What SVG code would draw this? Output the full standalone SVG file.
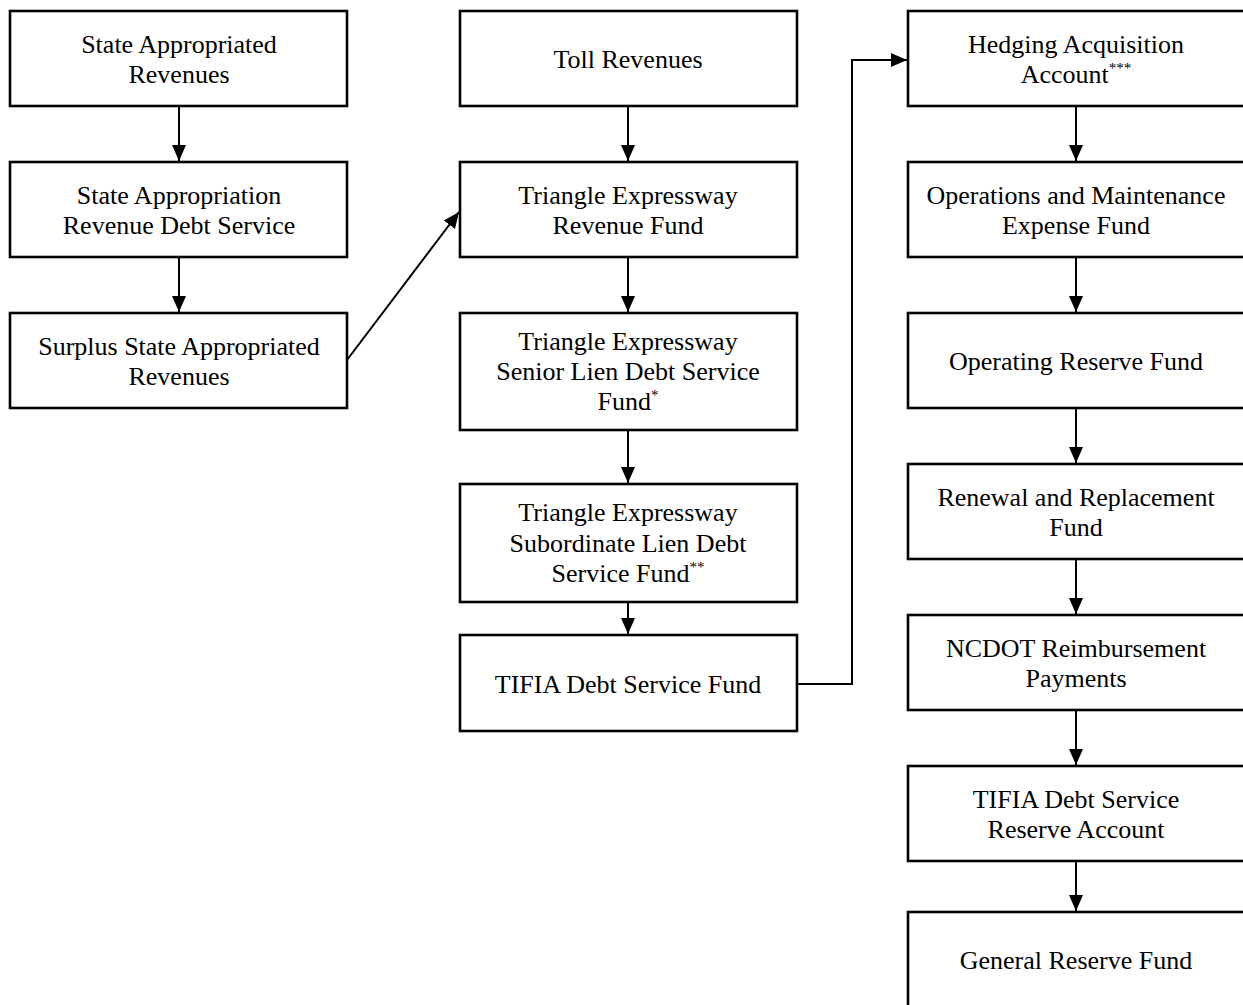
<svg xmlns="http://www.w3.org/2000/svg" width="1243" height="1005" viewBox="0 0 1243 1005">
<style>
.box{fill:#fff;stroke:#000;stroke-width:2.6}
text{font-family:'Liberation Serif','Times New Roman','DejaVu Serif',serif;font-size:26px;fill:#000;text-anchor:middle}
.c{fill:none;stroke:#000;stroke-width:2}
.s{font-size:15px}
</style>
<defs>
<marker id="ah" markerUnits="userSpaceOnUse" markerWidth="16" markerHeight="16" viewBox="0 0 16 16" refX="16" refY="8" orient="auto">
<path d="M0,1 L16,8 L0,15 Z" fill="#000"/>
</marker>
</defs>
<rect width="1243" height="1005" fill="#fff"/>
<g id="connectors">
<line class="c" x1="179" y1="106" x2="179" y2="161" marker-end="url(#ah)"/>
<line class="c" x1="179" y1="257" x2="179" y2="312" marker-end="url(#ah)"/>
<line class="c" x1="347" y1="360" x2="459" y2="212" marker-end="url(#ah)"/>
<line class="c" x1="628" y1="106" x2="628" y2="161" marker-end="url(#ah)"/>
<line class="c" x1="628" y1="257" x2="628" y2="312" marker-end="url(#ah)"/>
<line class="c" x1="628" y1="430" x2="628" y2="483" marker-end="url(#ah)"/>
<line class="c" x1="628" y1="602" x2="628" y2="634" marker-end="url(#ah)"/>
<polyline class="c" points="797,684 852,684 852,60 907,60" marker-end="url(#ah)"/>
<line class="c" x1="1076" y1="106" x2="1076" y2="161" marker-end="url(#ah)"/>
<line class="c" x1="1076" y1="257" x2="1076" y2="312" marker-end="url(#ah)"/>
<line class="c" x1="1076" y1="408" x2="1076" y2="463" marker-end="url(#ah)"/>
<line class="c" x1="1076" y1="559" x2="1076" y2="614" marker-end="url(#ah)"/>
<line class="c" x1="1076" y1="710" x2="1076" y2="765" marker-end="url(#ah)"/>
<line class="c" x1="1076" y1="861" x2="1076" y2="911" marker-end="url(#ah)"/>
</g>
<g id="n1"><rect class="box" x="10" y="11" width="337" height="95"/><text x="179" y="53">State Appropriated</text><text x="179" y="83">Revenues</text></g>
<g id="n2"><rect class="box" x="10" y="162" width="337" height="95"/><text x="179" y="204">State Appropriation</text><text x="179" y="234">Revenue Debt Service</text></g>
<g id="n3"><rect class="box" x="10" y="313" width="337" height="95"/><text x="179" y="355">Surplus State Appropriated</text><text x="179" y="385">Revenues</text></g>
<g id="n4"><rect class="box" x="460" y="11" width="337" height="95"/><text x="628" y="68">Toll Revenues</text></g>
<g id="n5"><rect class="box" x="460" y="162" width="337" height="95"/><text x="628" y="204">Triangle Expressway</text><text x="628" y="234">Revenue Fund</text></g>
<g id="n6"><rect class="box" x="460" y="313" width="337" height="117"/><text x="628" y="350">Triangle Expressway</text><text x="628" y="380">Senior Lien Debt Service</text><text x="628" y="410">Fund<tspan class="s" dy="-10">*</tspan></text></g>
<g id="n7"><rect class="box" x="460" y="484" width="337" height="118"/><text x="628" y="521">Triangle Expressway</text><text x="628" y="552">Subordinate Lien Debt</text><text x="628" y="582">Service Fund<tspan class="s" dy="-10">**</tspan></text></g>
<g id="n8"><rect class="box" x="460" y="635" width="337" height="96"/><text x="628" y="693">TIFIA Debt Service Fund</text></g>
<g id="n9"><rect class="box" x="908" y="11" width="337" height="95"/><text x="1076" y="53">Hedging Acquisition</text><text x="1076" y="83">Account<tspan class="s" dy="-10">***</tspan></text></g>
<g id="n10"><rect class="box" x="908" y="162" width="337" height="95"/><text x="1076" y="204">Operations and Maintenance</text><text x="1076" y="234">Expense Fund</text></g>
<g id="n11"><rect class="box" x="908" y="313" width="337" height="95"/><text x="1076" y="370">Operating Reserve Fund</text></g>
<g id="n12"><rect class="box" x="908" y="464" width="337" height="95"/><text x="1076" y="506">Renewal and Replacement</text><text x="1076" y="536">Fund</text></g>
<g id="n13"><rect class="box" x="908" y="615" width="337" height="95"/><text x="1076" y="657">NCDOT Reimbursement</text><text x="1076" y="687">Payments</text></g>
<g id="n14"><rect class="box" x="908" y="766" width="337" height="95"/><text x="1076" y="808">TIFIA Debt Service</text><text x="1076" y="838">Reserve Account</text></g>
<g id="n15"><rect class="box" x="908" y="912" width="337" height="100"/><text x="1076" y="969">General Reserve Fund</text></g>
</svg>
